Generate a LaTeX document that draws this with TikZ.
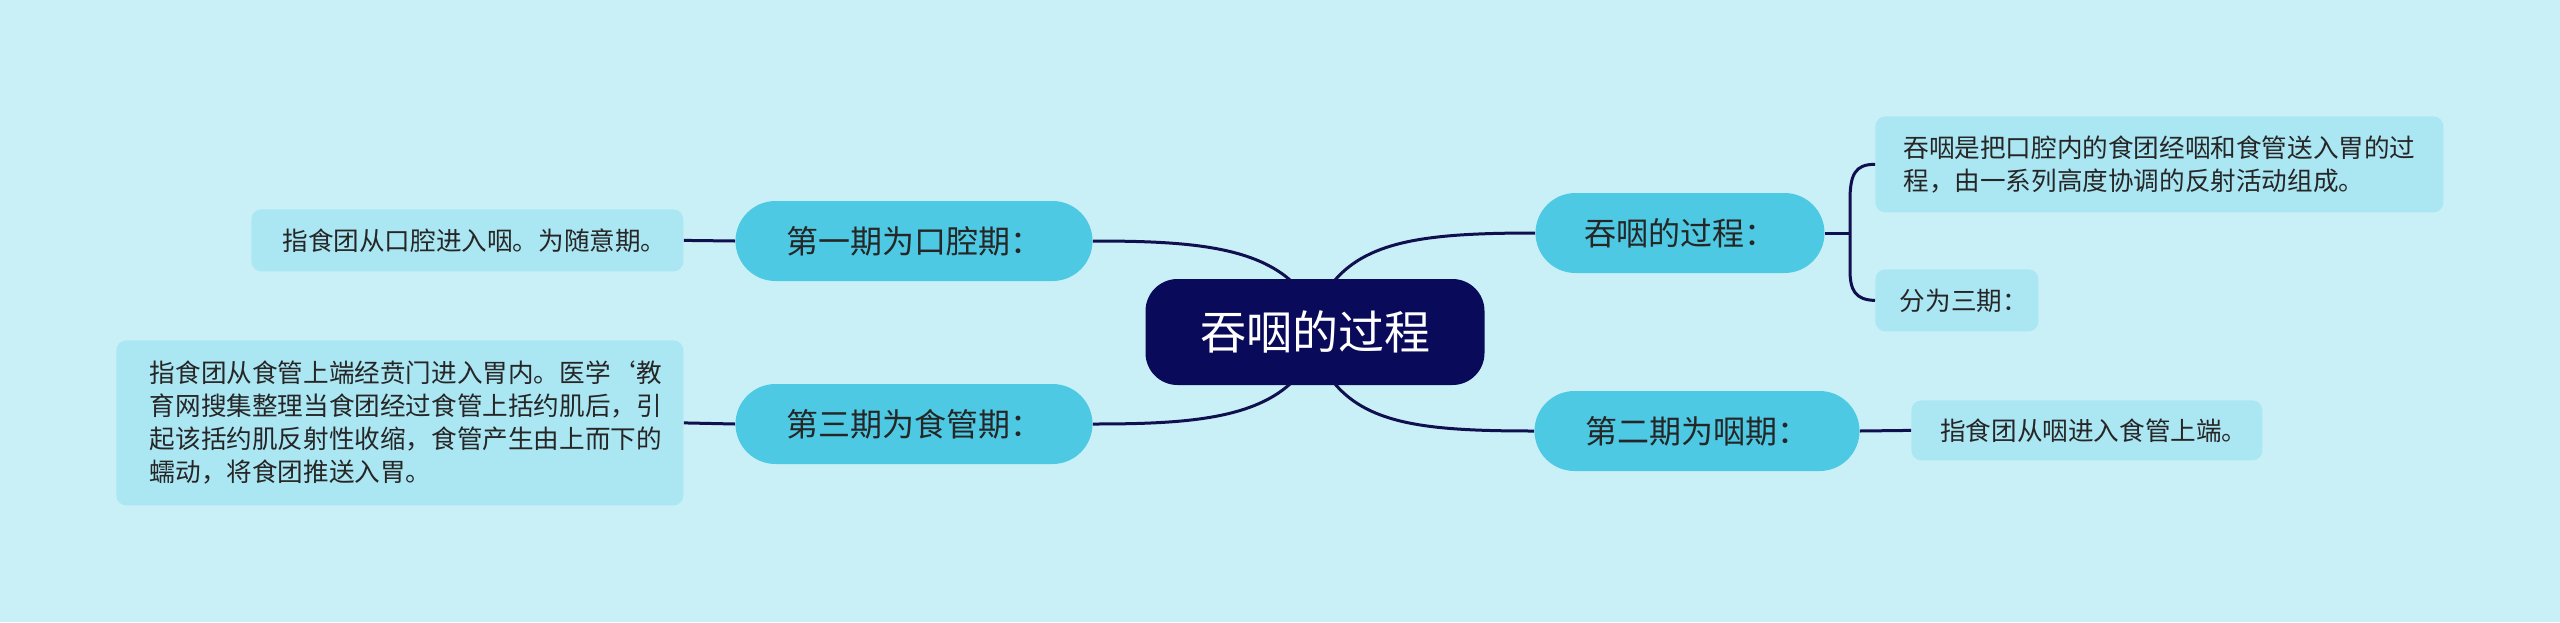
\documentclass[tikz,border=0pt]{standalone}
\usepackage{fontspec}
\setmainfont{Noto Sans CJK SC}
\definecolor{bgc}{HTML}{C9F0F7}
\definecolor{brc}{HTML}{4DC9E3}
\definecolor{lfc}{HTML}{ABE6F3}
\definecolor{ctc}{HTML}{0A0A5A}
\definecolor{lnc}{HTML}{10104F}
\begin{document}
\begin{tikzpicture}[x=0.5pt,y=-0.5pt,
  center/.style={fill=ctc,text=white,rounded corners=16pt,font=\fontsize{23pt}{27pt}\selectfont,minimum width=169.5pt,minimum height=53pt,inner sep=0pt},
  branch/.style={fill=brc,text=black!85,rounded corners=20pt,font=\fontsize{16pt}{19pt}\selectfont,minimum height=40pt,inner sep=0pt},
  leaf/.style={fill=lfc,text=black!85,rounded corners=5pt,font=\fontsize{12.8pt}{16.5pt}\selectfont,align=left,inner sep=0pt,anchor=north west},
  conn/.style={draw=lnc,line width=1.5pt}]
\fill[bgc] (0,0) rectangle (2560,622);
\useasboundingbox (0,0) rectangle (2560,622);
\node[center] (c) at (1315,332) {吞咽的过程};
\node[branch,minimum width=144.5pt] (b1) at (1680,233) {吞咽的过程：};
\node[branch,minimum width=162.5pt] (b2) at (1697,431) {第二期为咽期：};
\node[branch,minimum width=178.5pt] (b3) at (914,241) {第一期为口腔期：};
\node[branch,minimum width=178.5pt] (b4) at (914,424) {第三期为食管期：};
\node[leaf,minimum width=284pt,minimum height=48pt,text width=270pt] (l1) at (1875,116) {\hspace*{7pt}吞咽是把口腔内的食团经咽和食管送入胃的过\\\hspace*{7pt}程，由一系列高度协调的反射活动组成。};
\node[leaf,minimum width=81.5pt,minimum height=31pt] (l2) at (1875,269) {\hspace*{7pt}分为三期：};
\node[leaf,minimum width=175.5pt,minimum height=30pt] (l3) at (1911,400) {\hspace*{7pt}指食团从咽进入食管上端。};
\node[leaf,minimum width=216pt,minimum height=31pt] (l4) at (251,209) {\hspace*{7pt}指食团从口腔进入咽。为随意期。};
\node[leaf,minimum width=283.5pt,minimum height=82.5pt] (l5) at (116,340) {\hspace*{6pt}指食团从食管上端经贲门进入胃内。医学`教\\\hspace*{6pt}育网搜集整理当食团经过食管上括约肌后，引\\\hspace*{6pt}起该括约肌反射性收缩，食管产生由上而下的\\\hspace*{6pt}蠕动，将食团推送入胃。};
\coordinate (cr1) at (1335,280);
\coordinate (cr2) at (1335,384);
\coordinate (cl1) at (1290,280);
\coordinate (cl2) at (1290,384);
\draw[conn] (cr1) .. controls (1370,240) and (1430,233) .. (b1.west);
\draw[conn] (cr2) .. controls (1370,425) and (1430,431) .. (b2.west);
\draw[conn] (cl1) .. controls (1250,245) and (1180,241) .. (b3.east);
\draw[conn] (cl2) .. controls (1250,420) and (1180,424) .. (b4.east);
\draw[conn] (b2.east) -- (l3.west);
\draw[conn] (b3.west) -- (l4.east);
\draw[conn] (b4.west) -- (l5.east);
\coordinate (k) at (1850,233);
\draw[conn] (b1.east) -- (k);
\draw[conn] (l1.west) .. controls (1855,164) and (1850,175) .. (1850,200) -- (1850,270) .. controls (1850,290) and (1855,300) .. (l2.west);
\end{tikzpicture}
\end{document}
